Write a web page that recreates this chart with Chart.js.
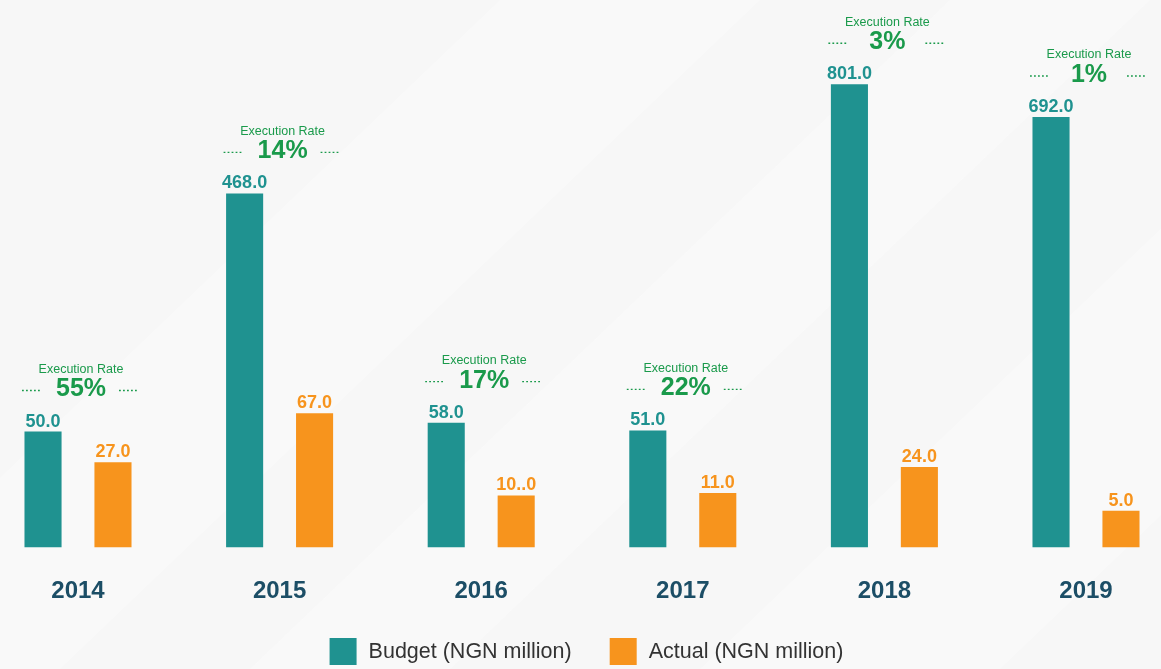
<!DOCTYPE html>
<html>
<head>
<meta charset="utf-8">
<title>Budget vs Actual</title>
<script src="https://cdn.jsdelivr.net/npm/chart.js@4.4.1/dist/chart.umd.min.js"></script>
<style>
  html, body { margin: 0; padding: 0; background: #f8f8f8; }
  #wrap { width: 1161px; height: 669px; position: relative; }
</style>
</head>
<body>
<div id="wrap"><canvas id="budgetChart"></canvas></div>
<script>
const years = ['2014', '2015', '2016', '2017', '2018', '2019'];
const budget = [50.0, 468.0, 58.0, 51.0, 801.0, 692.0];
const actual = [27.0, 67.0, 10.0, 11.0, 24.0, 5.0];
const budgetLabels = ['50.0', '468.0', '58.0', '51.0', '801.0', '692.0'];
const actualLabels = ['27.0', '67.0', '10..0', '11.0', '24.0', '5.0'];
const executionRate = [55, 14, 17, 22, 3, 1];

const TEAL = '#1f9290';
const ORANGE = '#f7941d';
const GREEN = '#1a9a4b';
const FONT = '"Liberation Sans", Arial, Helvetica, sans-serif';

// infographic bars are compressed, a square-root axis gets close to it
class SqrtScale extends Chart.LinearScale {
    static id = 'sqrt';
    static defaults = Chart.LinearScale.defaults;
    getPixelForValue(value) {
        if (value === null || isNaN(value)) return NaN;
        const top = Math.sqrt(this.max);
        return this.getPixelForDecimal(Math.sqrt(Math.max(0, value)) / top);
    }
    getValueForPixel(pixel) {
        const d = this.getDecimalForPixel(pixel) * Math.sqrt(this.max);
        return d * d;
    }
}
Chart.register(SqrtScale);

const annotations = {
    id: 'annotations',
    beforeDraw(chart) {
        const ctx = chart.ctx;
        ctx.save();
        ctx.fillStyle = '#f7f7f7';
        ctx.fillRect(0, 0, chart.width, chart.height);
        // very faint diagonal bands like the source background
        ctx.fillStyle = 'rgba(255,255,255,0.3)';
        [[-200, 260], [250, 200], [700, 300]].forEach(([x0, w]) => {
            ctx.beginPath();
            ctx.moveTo(x0, chart.height);
            ctx.lineTo(x0 + w, chart.height);
            ctx.lineTo(x0 + w + 700, 0);
            ctx.lineTo(x0 + 700, 0);
            ctx.closePath();
            ctx.fill();
        });
        ctx.restore();
    },
    afterDatasetsDraw(chart) {
        const ctx = chart.ctx;
        const bMeta = chart.getDatasetMeta(0);
        const aMeta = chart.getDatasetMeta(1);
        ctx.save();
        ctx.textAlign = 'center';
        ctx.textBaseline = 'alphabetic';

        // value labels
        ctx.font = 'bold 18px ' + FONT;
        bMeta.data.forEach((bar, i) => {
            ctx.fillStyle = TEAL;
            ctx.fillText(budgetLabels[i], bar.x, bar.y - 5);
        });
        aMeta.data.forEach((bar, i) => {
            ctx.fillStyle = ORANGE;
            ctx.fillText(actualLabels[i], bar.x, bar.y - 5);
        });

        // execution rate blocks
        bMeta.data.forEach((bar, i) => {
            const cx = (bar.x + aMeta.data[i].x) / 2 + 3;
            const py = bar.y - 42;
            ctx.fillStyle = GREEN;
            ctx.textBaseline = 'middle';
            ctx.font = 'bold 25px ' + FONT;
            ctx.fillText(executionRate[i] + '%', cx, py);
            ctx.font = '12.5px ' + FONT;
            ctx.fillText('Execution Rate', cx, py - 20);

            ctx.strokeStyle = GREEN;
            ctx.lineWidth = 1.4;
            ctx.setLineDash([1.8, 2.2]);
            ctx.beginPath();
            ctx.moveTo(cx - 59, py + 1);
            ctx.lineTo(cx - 39, py + 1);
            ctx.moveTo(cx + 38, py + 1);
            ctx.lineTo(cx + 58, py + 1);
            ctx.stroke();
            ctx.setLineDash([]);
        });

        // legend
        const items = [
            { text: 'Budget (NGN million)', color: TEAL },
            { text: 'Actual (NGN million)', color: ORANGE }
        ];
        ctx.font = '21.5px ' + FONT;
        ctx.textAlign = 'left';
        ctx.textBaseline = 'middle';
        const box = 27, gap = 12, between = 38;
        let total = 0;
        items.forEach((it, i) => {
            total += box + gap + ctx.measureText(it.text).width + (i ? 0 : between);
        });
        let x = chart.width / 2 - total / 2 + 6;
        const y = 638;
        items.forEach(it => {
            ctx.fillStyle = it.color;
            ctx.fillRect(x, y, box, box);
            ctx.fillStyle = '#333333';
            ctx.fillText(it.text, x + box + gap, y + box / 2 + 1);
            x += box + gap + ctx.measureText(it.text).width + between;
        });
        ctx.restore();
    }
};

const ctx = document.getElementById('budgetChart').getContext('2d');
new Chart(ctx, {
    type: 'bar',
    data: {
        labels: years,
        datasets: [
            {
                label: 'Budget (NGN million)',
                data: budget,
                backgroundColor: TEAL,
                categoryPercentage: 0.694,
                barPercentage: 0.53,
                clip: false
            },
            {
                label: 'Actual (NGN million)',
                data: actual,
                backgroundColor: ORANGE,
                categoryPercentage: 0.694,
                barPercentage: 0.53,
                clip: false
            }
        ]
    },
    options: {
        responsive: true,
        maintainAspectRatio: false,
        animation: false,
        layout: {
            padding: { left: 78, right: 75, top: 30, bottom: 33 }
        },
        plugins: {
            legend: { display: false },
            tooltip: { enabled: false }
        },
        scales: {
            x: {
                offset: false,
                grid: { display: false, drawTicks: false },
                border: { display: false },
                ticks: {
                    color: '#1c4e66',
                    padding: 30,
                    font: { family: FONT, size: 24, weight: 'bold' }
                }
            },
            y: {
                type: 'sqrt',
                display: false,
                min: 0,
                max: 1000
            }
        }
    },
    plugins: [annotations]
});
</script>
</body>
</html>
